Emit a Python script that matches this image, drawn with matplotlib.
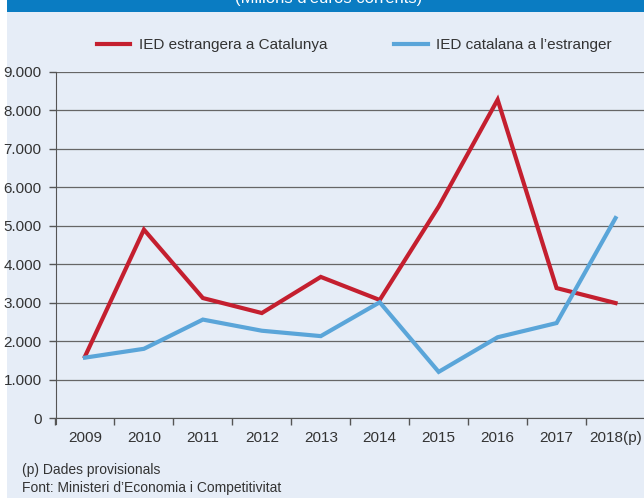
"""
IED estrangera a Catalunya vs IED catalana a l'estranger
"""

import matplotlib.pyplot as plt
from matplotlib.patches import Rectangle
from matplotlib.ticker import FuncFormatter

years = ['2009', '2010', '2011', '2012', '2013', '2014', '2015', '2016', '2017', '2018(p)']
ied_estrangera = [1600, 4900, 3120, 2730, 3670, 3070, 5500, 8280, 3380, 2990]
ied_catalana = [1570, 1800, 2560, 2270, 2130, 3010, 1200, 2100, 2470, 5200]
yticks = [0, 1000, 2000, 3000, 4000, 5000, 6000, 7000, 8000, 9000]

bg = '#e6edf7'
red = '#c41f2f'
blue = '#5aa5d9'
txt = '#333333'

plt.rcParams['font.family'] = ['Liberation Sans', 'DejaVu Sans']

fig = plt.figure(figsize=(6.44, 4.98), dpi=100, facecolor=bg)

# white strip at the left edge and blue header band
fig.patches.append(Rectangle((0, 0), 7 / 644, 1, transform=fig.transFigure,
                             facecolor='white', edgecolor='none', zorder=-1))
fig.patches.append(Rectangle((7 / 644, 1 - 12 / 498), 1, 12 / 498, transform=fig.transFigure,
                             facecolor='#0a7cc2', edgecolor='none', zorder=-1))
# header title, cut off at the top as in the source
fig.text(0.51, 1 - 3 / 498, "(Milions d'euros corrents)", color='white', fontsize=12,
         ha='center', va='baseline')

ax = fig.add_axes([55.5 / 644, 80 / 498, 589.5 / 644, 346 / 498])
ax.set_facecolor(bg)

x = list(range(len(years)))
ax.plot(x, ied_estrangera, color=red, lw=3.0, solid_joinstyle='miter',
        label='IED estrangera a Catalunya', zorder=3)
ax.plot(x, ied_catalana, color=blue, lw=3.0, solid_joinstyle='miter',
        label="IED catalana a l\u2019estranger", zorder=3)

ax.set_xlim(-0.5, 9.5)
ax.set_ylim(0, 9000)
ax.set_yticks(yticks)
ax.yaxis.set_major_formatter(FuncFormatter(lambda v, p: f'{int(v):,}'.replace(',', '.')))
ax.grid(axis='y', color='#666666', lw=0.9, zorder=1)

ax.set_xticks([i + 0.5 for i in range(-1, len(years))])
ax.set_xticklabels([])
ax.set_xticks(x, minor=True)
ax.set_xticklabels(years, minor=True)
ax.tick_params(axis='x', which='major', length=5, width=1, color='#555555', direction='out')
ax.tick_params(axis='x', which='minor', length=0, pad=9, labelsize=11, labelcolor=txt)
ax.tick_params(axis='y', length=5, width=1, color='#555555', pad=5, labelsize=11, labelcolor=txt)

for s in ['top', 'right']:
    ax.spines[s].set_visible(False)
ax.spines['left'].set_color('#555555')
ax.spines['bottom'].set_color('#555555')
ax.spines['left'].set_bounds(-150, 9000)

fig.legend(loc='center', bbox_to_anchor=(0.55, 1 - 45 / 498), ncol=2, frameon=False,
           handlelength=2.2, columnspacing=4.4, handletextpad=0.55, fontsize=11,
           labelcolor=txt)

fig.text(22 / 644, 1 - 470 / 498, '(p) Dades provisionals', fontsize=10, color=txt, va='center')
fig.text(22 / 644, 1 - 488 / 498, "Font: Ministeri d\u2019Economia i Competitivitat", fontsize=10,
         color=txt, va='center')

fig.savefig('out.png', dpi=100, facecolor=bg)
